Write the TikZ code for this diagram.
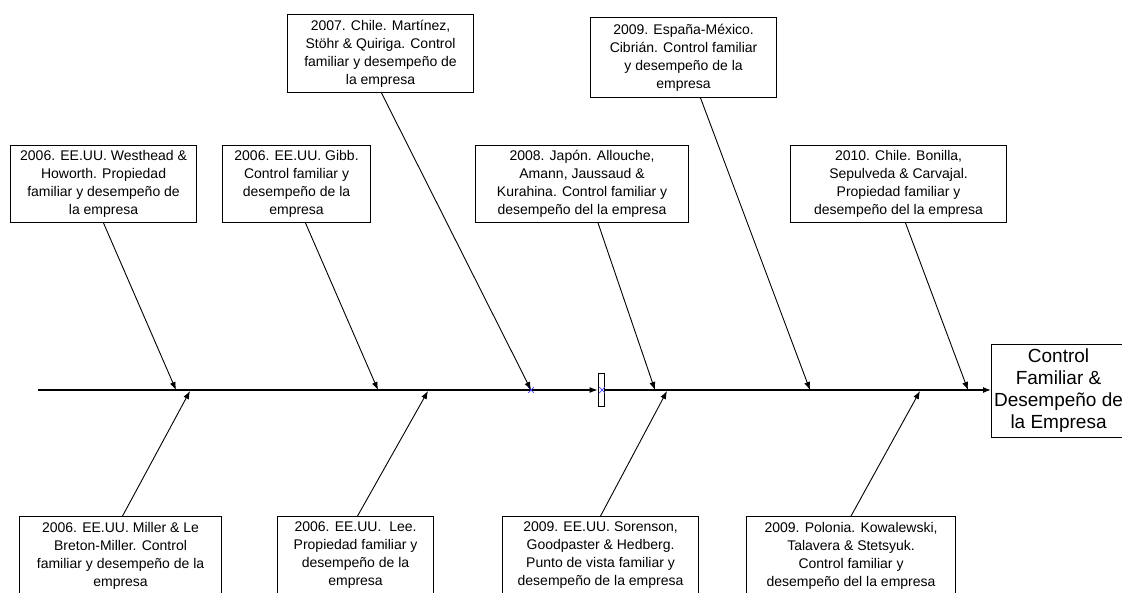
\documentclass[tikz,border=0pt]{standalone}
\usepackage{fontspec}
\setmainfont{Liberation Sans}
\usetikzlibrary{arrows.meta,shapes.misc}
\begin{document}
\begin{tikzpicture}[x=1pt,y=-1pt,
  box/.style={draw, line width=1.1pt, fill=white, align=center, anchor=north west,
    inner sep=1pt, font=\fontsize{14}{18}\selectfont},
  mainbox/.style={draw, line width=1.1pt, fill=white, align=center, anchor=north west,
    inner sep=1pt, font=\fontsize{19}{22}\selectfont},
  cause/.style={line width=0.9pt, -{Latex[length=8pt,width=6pt]}},
  spine/.style={line width=1.1pt, -{Latex[length=8pt,width=6pt]}},
  xmark/.style={cross out, draw=blue!75, line width=0.7pt, minimum size=5pt, inner sep=0pt}]
\useasboundingbox (0,0) rectangle (1122,593);
\fill[white] (0,0) rectangle (1122,593);

% effect box
\node[mainbox, minimum width=134pt, minimum height=93pt] (effect) at (991,344)
  {Control\\Familiar \&\\Desempeño de\\la Empresa};

% spine with its marker
\node[draw, line width=0.9pt, minimum width=6pt, minimum height=33pt, inner sep=0pt] (mk) at (601,390) {};
\coordinate (tail) at (38,390);
\draw[spine] (tail) -- (mk.west);
\draw[spine] (mk.east) -- (effect.west |- mk.east);
\node[xmark] (x1) at (531,390) {};
\node[xmark] (x2) at (602,390) {};

% causes above the spine
\node[box, minimum width=186pt, minimum height=77pt] (t1) at (10,145)
  {2006. EE.UU. Westhead \&\\Howorth. Propiedad\\familiar y desempeño de\\la empresa};
\node[box, minimum width=148pt, minimum height=77pt] (t2) at (222,145)
  {2006. EE.UU. Gibb.\\Control familiar y\\desempeño de la\\empresa};
\node[box, minimum width=186pt, minimum height=78pt] (t3) at (287,14)
  {2007. Chile. Martínez,\\Stöhr \& Quiriga. Control\\familiar y desempeño de\\la empresa};
\node[box, minimum width=213pt, minimum height=77pt] (t4) at (475,145)
  {2008. Japón. Allouche,\\Amann, Jaussaud \&\\Kurahina. Control familiar y\\desempeño del la empresa};
\node[box, minimum width=186pt, minimum height=80pt] (t5) at (590,17)
  {2009. España-México.\\Cibrián. Control familiar\\y desempeño de la\\empresa};
\node[box, minimum width=216pt, minimum height=77pt] (t6) at (790,145)
  {2010. Chile. Bonilla,\\Sepulveda \& Carvajal.\\Propiedad familiar y\\desempeño del la empresa};

% causes below the spine
\node[box, minimum width=202pt, minimum height=78pt] (b1) at (19,516)
  {2006. EE.UU. Miller \& Le\\Breton-Miller. Control\\familiar y desempeño de la\\empresa};
\node[box, minimum width=156pt, minimum height=78pt] (b2) at (277,516)
  {2006. EE.UU.\ \ Lee.\\Propiedad familiar y\\desempeño de la\\empresa};
\node[box, minimum width=196pt, minimum height=78pt] (b3) at (502,516)
  {2009. EE.UU. Sorenson,\\Goodpaster \& Hedberg.\\Punto de vista familiar y\\desempeño de la empresa};
\node[box, minimum width=209pt, minimum height=78pt] (b4) at (746,516)
  {2009. Polonia. Kowalewski,\\Talavera \& Stetsyuk.\\Control familiar y\\desempeño del la empresa};

% points where the causes meet the spine
\coordinate (p1) at (176,390);
\coordinate (p2) at (378,390);
\coordinate (p3) at (531,390);
\coordinate (p4) at (655,390);
\coordinate (p5) at (810,390);
\coordinate (p6) at (968,390);
\coordinate (q1) at (190,391);
\coordinate (q2) at (428,391);
\coordinate (q3) at (667,391);
\coordinate (q4) at (920,391);

\draw[cause] (t1.south) -- (p1);
\draw[cause] ([xshift=9pt]t2.south) -- (p2);
\draw[cause] ([xshift=1pt]t3.south) -- (p3);
\draw[cause] ([xshift=16pt]t4.south) -- (p4);
\draw[cause] ([xshift=17pt]t5.south) -- (p5);
\draw[cause] ([xshift=7pt]t6.south) -- (p6);
\draw[cause] ([xshift=2pt]b1.north) -- (q1);
\draw[cause] ([xshift=2pt]b2.north) -- (q2);
\draw[cause] (b3.north) -- (q3);
\draw[cause] (b4.north) -- (q4);
\end{tikzpicture}
\end{document}
